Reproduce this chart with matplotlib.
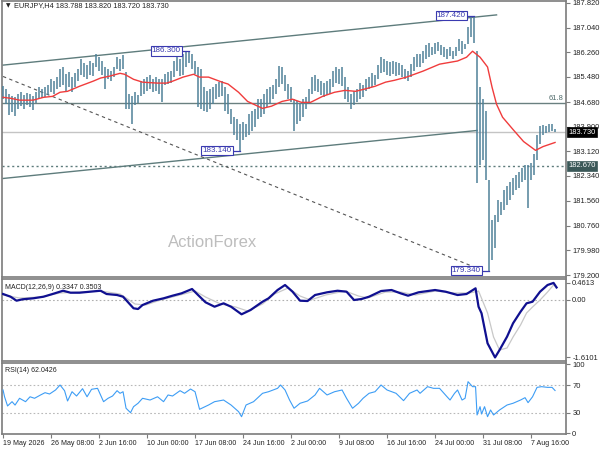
import numpy as np
import matplotlib
matplotlib.use("Agg")
import matplotlib.pyplot as plt
from matplotlib import transforms

plt.rcParams['font.family'] = ['Liberation Sans', 'DejaVu Sans']

# ---------------- data ----------------
header_text = "EURJPY,H4 183.788 183.820 183.720 183.730"
time_labels = ["19 May 2026", "26 May 08:00", "2 Jun 16:00", "10 Jun 00:00",
               "17 Jun 08:00", "24 Jun 16:00", "2 Jul 00:00", "9 Jul 08:00",
               "16 Jul 16:00", "24 Jul 00:00", "31 Jul 08:00", "7 Aug 16:00"]
bars_per_label = 32   # H4 bars between two time labels
bar_step = 2          # each drawn bar summarises two H4 bars

highs = [185.18, 185.09, 184.93, 184.86, 184.83, 184.93, 184.99, 184.89, 184.96, 184.93,
         184.86, 184.99, 185.15, 185.09, 185.15, 185.21, 185.40, 185.34, 185.47, 185.72,
         185.79, 185.56, 185.63, 185.47, 185.59, 185.72, 186.04, 185.91, 185.85, 185.98,
         185.91, 186.20, 186.10, 185.98, 185.79, 185.72, 185.66, 185.79, 186.10, 186.04,
         186.17, 185.63, 184.93, 184.86, 184.99, 184.89, 185.34, 185.40, 185.47, 185.53,
         185.40, 185.47, 185.40, 185.40, 185.56, 185.63, 185.66, 185.98, 186.10, 186.04,
         186.20, 186.29, 186.30, 186.20, 185.98, 185.79, 185.72, 185.15, 185.02, 185.09,
         185.15, 185.24, 185.31, 185.34, 185.15, 184.93, 184.45, 184.20, 184.13, 183.97,
         184.04, 183.97, 184.29, 184.39, 184.45, 184.77, 184.77, 184.93, 185.09, 185.15,
         185.21, 185.40, 185.82, 185.79, 185.53, 185.24, 185.15, 184.77, 184.70, 184.64,
         184.77, 184.83, 185.09, 185.47, 185.53, 185.40, 185.34, 185.28, 185.34, 185.40,
         185.66, 185.79, 185.72, 185.79, 185.47, 185.15, 184.93, 185.02, 185.09, 185.28,
         185.21, 185.40, 185.47, 185.59, 185.53, 185.85, 186.10, 186.04, 185.98, 185.94,
         185.98, 185.94, 185.91, 185.85, 185.72, 185.66, 185.88, 186.10, 186.20, 186.20,
         186.29, 186.48, 186.55, 186.42, 186.55, 186.58, 186.48, 186.42, 186.36, 186.42,
         186.29, 186.42, 186.68, 186.61, 186.52, 187.06, 187.41, 187.42, 186.29, 185.15,
         184.77, 184.39, 182.22, 180.95, 181.11, 181.59, 181.52, 181.91, 182.03, 182.16,
         182.29, 182.38, 182.48, 182.60, 182.70, 182.70, 182.76, 183.02, 183.65, 183.91,
         183.94, 183.91, 183.97, 184.00, 183.82]
lows = [184.77, 184.61, 184.26, 184.35, 184.23, 184.45, 184.54, 184.45, 184.58, 184.51,
        184.42, 184.64, 184.77, 184.80, 184.83, 184.89, 184.99, 184.93, 185.09, 185.15,
        185.21, 185.02, 185.15, 184.99, 185.15, 185.34, 185.53, 185.47, 185.40, 185.53,
        185.50, 185.79, 185.66, 185.53, 185.09, 185.40, 185.34, 185.47, 185.72, 185.66,
        185.72, 184.45, 184.45, 183.97, 184.58, 184.64, 184.86, 184.93, 185.02, 185.09,
        184.99, 185.02, 184.93, 184.67, 185.21, 185.24, 185.28, 185.47, 185.66, 185.50,
        185.53, 185.79, 185.91, 185.72, 185.56, 184.51, 184.45, 184.39, 184.35, 184.45,
        184.61, 184.77, 184.83, 184.86, 184.39, 184.29, 183.97, 183.65, 183.49, 183.14,
        183.49, 183.56, 183.65, 183.75, 183.88, 184.13, 184.20, 184.29, 184.51, 184.61,
        184.77, 184.93, 185.15, 185.24, 185.02, 184.77, 184.67, 183.75, 183.97, 184.07,
        184.20, 184.45, 184.61, 184.93, 185.02, 184.99, 184.89, 184.83, 184.89, 184.93,
        185.15, 185.28, 185.24, 185.18, 184.77, 184.67, 184.45, 184.58, 184.67, 184.77,
        184.83, 185.02, 185.09, 185.15, 185.21, 185.40, 185.59, 185.63, 185.53, 185.50,
        185.56, 185.50, 185.53, 185.47, 185.40, 185.34, 185.47, 185.66, 185.79, 185.79,
        185.91, 186.04, 186.10, 186.17, 186.20, 186.29, 186.17, 186.10, 186.04, 186.14,
        186.04, 186.14, 186.29, 186.20, 186.36, 186.52, 186.74, 186.55, 182.13, 182.70,
        182.86, 182.22, 179.34, 179.68, 180.06, 180.89, 181.11, 181.27, 181.43, 181.59,
        181.75, 181.91, 181.97, 182.16, 182.22, 181.33, 182.22, 182.38, 182.86, 183.34,
        183.65, 183.69, 183.72, 183.75, 183.72]

# moving average (red line): bar index, value
ma_idx = [0, 5, 11, 20, 27, 33, 38, 43, 51, 60, 65, 71, 78, 81, 87, 93, 103, 109, 113, 120,
          127, 131, 137, 146, 150, 157, 163, 173, 179, 186, 193, 199, 205, 213, 221, 228, 235,
          241, 248, 255, 261, 269, 280, 291, 303, 309, 313, 318, 323, 326, 329, 333, 340, 347,
          355, 360, 368]
ma_val = [184.83, 184.80, 184.74, 184.74, 184.83, 184.86, 184.99, 185.02, 185.18, 185.34,
          185.44, 185.50, 185.59, 185.56, 185.40, 185.31, 185.28, 185.28, 185.34, 185.47,
          185.56, 185.47, 185.47, 185.31, 185.25, 184.99, 184.70, 184.48, 184.55, 184.70,
          184.77, 184.67, 184.67, 184.86, 184.99, 185.05, 185.02, 185.09, 185.18, 185.31,
          185.37, 185.47, 185.66, 185.88, 185.98, 186.10, 186.29, 186.10, 185.79, 185.15,
          184.61, 184.20, 183.81, 183.43, 183.15, 183.27, 183.40]

# MACD main line
macd_idx = [0, 5, 9, 13, 20, 27, 33, 40, 45, 51, 58, 65, 69, 76, 80, 83, 87, 90, 93, 100,
            107, 113, 119, 126, 130, 135, 141, 147, 152, 159, 165, 173, 177, 183, 188, 193,
            198, 203, 208, 216, 223, 229, 234, 239, 244, 252, 259, 265, 270, 277, 288, 295,
            303, 309, 315, 317, 319, 321, 323, 328, 331, 336, 340, 345, 349, 353, 358, 363,
            367, 369]
macd_val = [0.153, 0.078, -0.033, 0.006, 0.033, 0.078, 0.153, 0.244, 0.189, 0.189, 0.217,
            0.244, 0.153, 0.125, 0.078, -0.061, -0.244, -0.264, -0.153, -0.033, 0.033,
            0.106, 0.172, 0.292, 0.125, -0.078, -0.200, -0.106, -0.200, -0.411, -0.292,
            -0.061, 0.033, 0.264, 0.403, 0.217, -0.033, -0.042, 0.125, 0.200, 0.244, 0.217,
            -0.014, 0.014, 0.078, 0.236, 0.264, 0.172, 0.106, 0.200, 0.264, 0.217, 0.125,
            0.153, 0.311, -0.200, -0.383, -0.800, -1.217, -1.6101, -1.403, -1.033, -0.661,
            -0.339, -0.106, -0.061, 0.217, 0.403, 0.4613, 0.3347]
# MACD signal line
sig_idx = [0, 11, 25, 38, 51, 65, 78, 88, 95, 105, 118, 128, 135, 145, 155, 163, 173, 181,
           190, 198, 205, 215, 228, 237, 243, 255, 265, 275, 288, 301, 311, 317, 323, 327,
           331, 336, 340, 345, 349, 353, 358, 363, 367, 369]
sig_val = [0.125, 0.042, 0.069, 0.181, 0.208, 0.236, 0.153, -0.125, -0.153, -0.014, 0.125,
           0.236, 0.069, -0.125, -0.208, -0.319, -0.125, 0.153, 0.319, 0.097, -0.014,
           0.125, 0.236, 0.097, 0.042, 0.208, 0.208, 0.125, 0.236, 0.181, 0.181, 0.236,
           -0.375, -1.042, -1.403, -1.347, -1.042, -0.708, -0.375, -0.208, -0.014, 0.208,
           0.403, 0.3503]

# RSI(14)
rsi_idx = [0, 1, 3, 6, 8, 11, 15, 18, 21, 25, 28, 31, 35, 38, 41, 43, 46, 49, 53, 56, 59,
           63, 65, 67, 70, 73, 76, 78, 80, 82, 85, 87, 90, 93, 98, 103, 107, 110, 113, 118,
           121, 125, 128, 131, 137, 141, 147, 152, 157, 159, 162, 167, 173, 177, 183, 185,
           188, 191, 194, 198, 203, 208, 211, 216, 221, 226, 229, 233, 237, 240, 244, 248,
           252, 256, 262, 267, 271, 276, 278, 283, 287, 291, 296, 298, 301, 303, 306, 308,
           310, 313, 315, 316, 318, 319, 321, 323, 325, 327, 331, 336, 340, 345, 348, 350,
           353, 356, 359, 363, 366, 368]
rsi_val = [62.8, 53.0, 39.7, 45.9, 41.0, 50.8, 45.9, 53.0, 50.8, 55.6, 58.9, 57.0, 62.8,
           70.0, 61.8, 46.9, 60.3, 54.1, 64.7, 53.0, 63.8, 65.2, 55.6, 45.9, 50.8, 54.1,
           61.8, 58.0, 60.3, 36.4, 30.0, 38.7, 43.6, 50.8, 48.3, 53.0, 45.9, 55.6, 54.1,
           61.8, 58.0, 64.2, 60.3, 34.9, 41.1, 45.9, 48.3, 41.1, 31.5, 24.2, 41.1, 45.9,
           58.0, 60.3, 65.2, 70.0, 62.8, 48.3, 36.4, 43.6, 46.9, 55.6, 65.2, 55.6, 60.3,
           62.8, 50.8, 36.4, 43.6, 50.8, 58.0, 60.3, 70.0, 62.8, 58.0, 47.4, 58.0, 62.8,
           58.0, 67.6, 65.2, 65.2, 53.0, 48.3, 58.0, 62.8, 48.3, 50.8, 74.8, 67.6, 67.6,
           26.7, 38.7, 28.1, 38.7, 24.2, 33.9, 26.7, 33.9, 41.1, 43.6, 48.3, 51.7, 44.5,
           53.0, 66.6, 67.6, 66.6, 66.6, 62.0426]

# drawn objects anchored to (bar index, price)
upper_channel_idx = [0, 329]
upper_channel_price = [185.85, 187.44]
lower_channel_idx = [0, 316]
lower_channel_price = [182.26, 183.78]
dashed_idx = [0, 316]
dashed_price = [185.49, 179.42]
fib_level = 184.65
fib_label = "61.8"
last_price = 183.73
support_level = 182.67
swing_prices = [186.30, 187.42, 183.14, 179.34]
swing_bar_idx = [124, 314, 158, 324]

price_ticks = [187.82, 187.04, 186.26, 185.48, 184.68, 183.90, 183.12, 182.34,
               181.56, 180.76, 179.98, 179.20]
macd_ticks = [0.4613, 0.0, -1.6101]
macd_tick_labels = ["0.4613", "0.00", "-1.6101"]
rsi_ticks = [100, 70, 30, 0]

# ---------------- styling ----------------
W, H = 600, 450
fig = plt.figure(figsize=(W / 100, H / 100), dpi=100)
fig.patch.set_facecolor("white")

def ax_rect(x0, y0, x1, y1):
    return [x0 / W, 1 - y1 / H, (x1 - x0) / W, (y1 - y0) / H]

ax = fig.add_axes(ax_rect(2, 1, 566, 277))
axm = fig.add_axes(ax_rect(2, 279, 566, 360.5), sharex=ax)
axr = fig.add_axes(ax_rect(2, 363, 566, 434), sharex=ax)

frame_col = "#7c7c7c"
txt_col = "#222222"
FS = 5.4
FS_LBL = 5.0

for a in (ax, axm, axr):
    for s in a.spines.values():
        s.set_color(frame_col)
        s.set_linewidth(1.2)
    a.yaxis.tick_right()
    a.tick_params(axis='y', direction='out', length=3, width=0.8, colors=frame_col,
                  labelcolor=txt_col, labelsize=FS, pad=1.5)
    a.set_facecolor("white")

ax.set_xlim(-0.7, 375.3)

# ---- main panel ----
bar_x = np.arange(len(highs)) * bar_step
ax.vlines(bar_x, lows, highs, color="#4f8199", lw=1.1, zorder=3)
ax.plot(ma_idx, ma_val, color="#f03c3c", lw=1.0, zorder=4)

line_col = "#5e7c7c"
ax.plot(upper_channel_idx, upper_channel_price, color=line_col, lw=1.0, zorder=2)
ax.plot(lower_channel_idx, lower_channel_price, color=line_col, lw=1.0, zorder=2)
ax.plot(dashed_idx, dashed_price, color="#555555", lw=0.8, ls=(0, (3, 3)), zorder=2)
ax.axhline(fib_level, color="#6a8080", lw=1.0, zorder=1)
ax.axhline(last_price, color="#c4c4c4", lw=1.0, zorder=1)
ax.axhline(support_level, color="#5e7c7c", lw=1.0, ls=(0, (1.5, 2)), zorder=1)

ax.set_ylim(179.14, 187.88)
ax.set_yticks(price_ticks)
ax.set_yticklabels([f"{p:.3f}" for p in price_ticks])
ax.tick_params(axis='x', bottom=False, labelbottom=False)

box_col = "#3a3ab0"
for p, bi in zip(swing_prices, swing_bar_idx):
    tx = bi - 5.5
    ax.plot([tx, bi], [p, p], color=box_col, lw=0.9, zorder=5)
    ax.text(tx, p, f"{p:.3f}", ha='right', va='center', fontsize=FS + 0.4, color=box_col,
            zorder=6, bbox=dict(boxstyle="square,pad=0.15", fc="white", ec=box_col, lw=0.8))

trans_r = transforms.blended_transform_factory(ax.transAxes, ax.transData)
ax.text(0.995, fib_level + 0.04, fib_label, transform=trans_r, ha='right', va='bottom',
        fontsize=FS, color="#4f6a6a")
ax.text(1.004, last_price, f"{last_price:.3f}", transform=trans_r, ha='left', va='center',
        fontsize=FS, color="white", zorder=10, clip_on=False,
        bbox=dict(boxstyle="square,pad=0.2", fc="black", ec="black", lw=0.5))
ax.text(1.004, support_level, f"{support_level:.3f}", transform=trans_r, ha='left',
        va='center', fontsize=FS, color="white", zorder=10, clip_on=False,
        bbox=dict(boxstyle="square,pad=0.2", fc="#3b5858", ec="#3b5858", lw=0.5))

ax.text(0.007, 0.983, "\u25bc", transform=ax.transAxes, ha='left', va='center',
        fontsize=4.2, color=txt_col, family=['DejaVu Sans'])
ax.text(0.022, 0.983, header_text, transform=ax.transAxes, ha='left', va='center',
        fontsize=5.3, color=txt_col)
ax.text(0.374, 0.125, "ActionForex", transform=ax.transAxes, ha='center', va='center',
        fontsize=12, color="#bdbdbd")

# ---- MACD panel ----
axm.axhline(0, color="#b0b0b0", lw=0.8, ls=(0, (1.5, 2)))
axm.plot(sig_idx, sig_val, color="#c8c8c8", lw=0.9, zorder=2)
axm.plot(macd_idx, macd_val, color="#101090", lw=1.6, zorder=3)
axm.set_ylim(-1.695, 0.57)
axm.set_yticks(macd_ticks)
axm.set_yticklabels(macd_tick_labels)
axm.tick_params(axis='x', bottom=False, labelbottom=False)
axm.text(0.006, 0.9, f"MACD(12,26,9) {macd_val[-1]:.4f} {sig_val[-1]:.4f}",
         transform=axm.transAxes, ha='left', va='center', fontsize=FS_LBL, color=txt_col)

# ---- RSI panel ----
for lvl in (70, 30):
    axr.axhline(lvl, color="#b8b8b8", lw=0.8, ls=(0, (1.5, 2)))
axr.plot(rsi_idx, rsi_val, color="#3d9df5", lw=0.8, zorder=3)
axr.set_ylim(-0.8, 101.8)
axr.set_yticks(rsi_ticks)
axr.set_yticklabels([str(v) for v in rsi_ticks])
axr.text(0.006, 0.9, f"RSI(14) {rsi_val[-1]:.4f}", transform=axr.transAxes, ha='left',
         va='center', fontsize=FS_LBL, color=txt_col)

tick_pos = [i * bars_per_label for i in range(len(time_labels))]
axr.set_xticks(tick_pos)
axr.set_xticklabels(time_labels)
axr.tick_params(axis='x', direction='out', length=3, width=0.8, colors=frame_col,
                labelcolor=txt_col, labelsize=5.1, pad=1.5)
for lbl in axr.get_xticklabels():
    lbl.set_ha('left')

fig.savefig("out.png", dpi=100, facecolor="white")
